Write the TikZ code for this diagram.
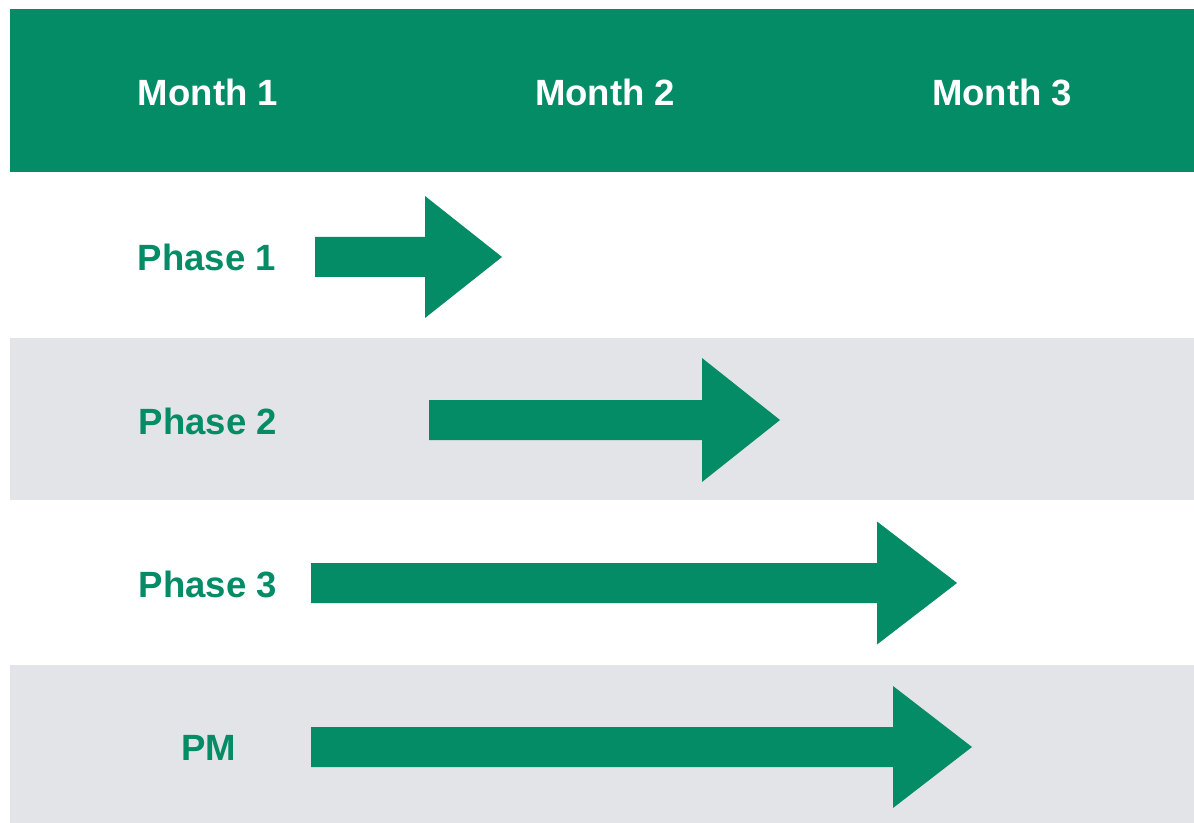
\documentclass[tikz,border=0pt]{standalone}
\usepackage{fontspec}
\setmainfont{Liberation Sans}
\definecolor{hdrgreen}{HTML}{038C66}
\definecolor{rowgray}{HTML}{E3E4E8}
\tikzset{
  hdrtext/.style={text=white, font=\fontsize{27.4}{30}\selectfont\bfseries, inner sep=0pt, anchor=center},
  phasetext/.style={text=hdrgreen, font=\fontsize{27.4}{30}\selectfont\bfseries, inner sep=0pt, anchor=center},
  garrow/.style={fill=hdrgreen, draw=none}
}
% #1 start x, #2 head base x, #3 tip x, #4 center y, #5 shaft half, #6 head half
\newcommand\greenarrow[6]{%
  \fill[garrow] (#1,#4-#5) -- (#2,#4-#5) -- (#2,#4-#6) -- (#3,#4) -- (#2,#4+#6) -- (#2,#4+#5) -- (#1,#4+#5) -- cycle;}
\begin{document}
\begin{tikzpicture}[x=0.75pt,y=-0.75pt]
\useasboundingbox (0,0) rectangle (1194,823);
\fill[white] (0,0) rectangle (1194,823);
% header band
\fill[hdrgreen] (10,9) rectangle (1194,172);
% gray rows
\fill[rowgray] (10,338) rectangle (1194,500);
\fill[rowgray] (10,665) rectangle (1194,823);
% header labels
\node[hdrtext] (m1) at (208,92) {Month 1};
\node[hdrtext] (m2) at (605,92) {Month 2};
\node[hdrtext] (m3) at (1002,92) {Month 3};
% row labels
\node[phasetext] (p1) at (207,257) {Phase 1};
\node[phasetext] (p2) at (208,421) {Phase 2};
\node[phasetext] (p3) at (208,584) {Phase 3};
\node[phasetext] (pm) at (209,748) {PM};
% arrows
\greenarrow{315}{425}{502}{257}{20}{61}
\greenarrow{429}{702}{780}{420}{20}{62}
\greenarrow{311}{877}{957}{583}{20}{61.5}
\greenarrow{311}{893}{972}{747}{20}{61}
\end{tikzpicture}
\end{document}
